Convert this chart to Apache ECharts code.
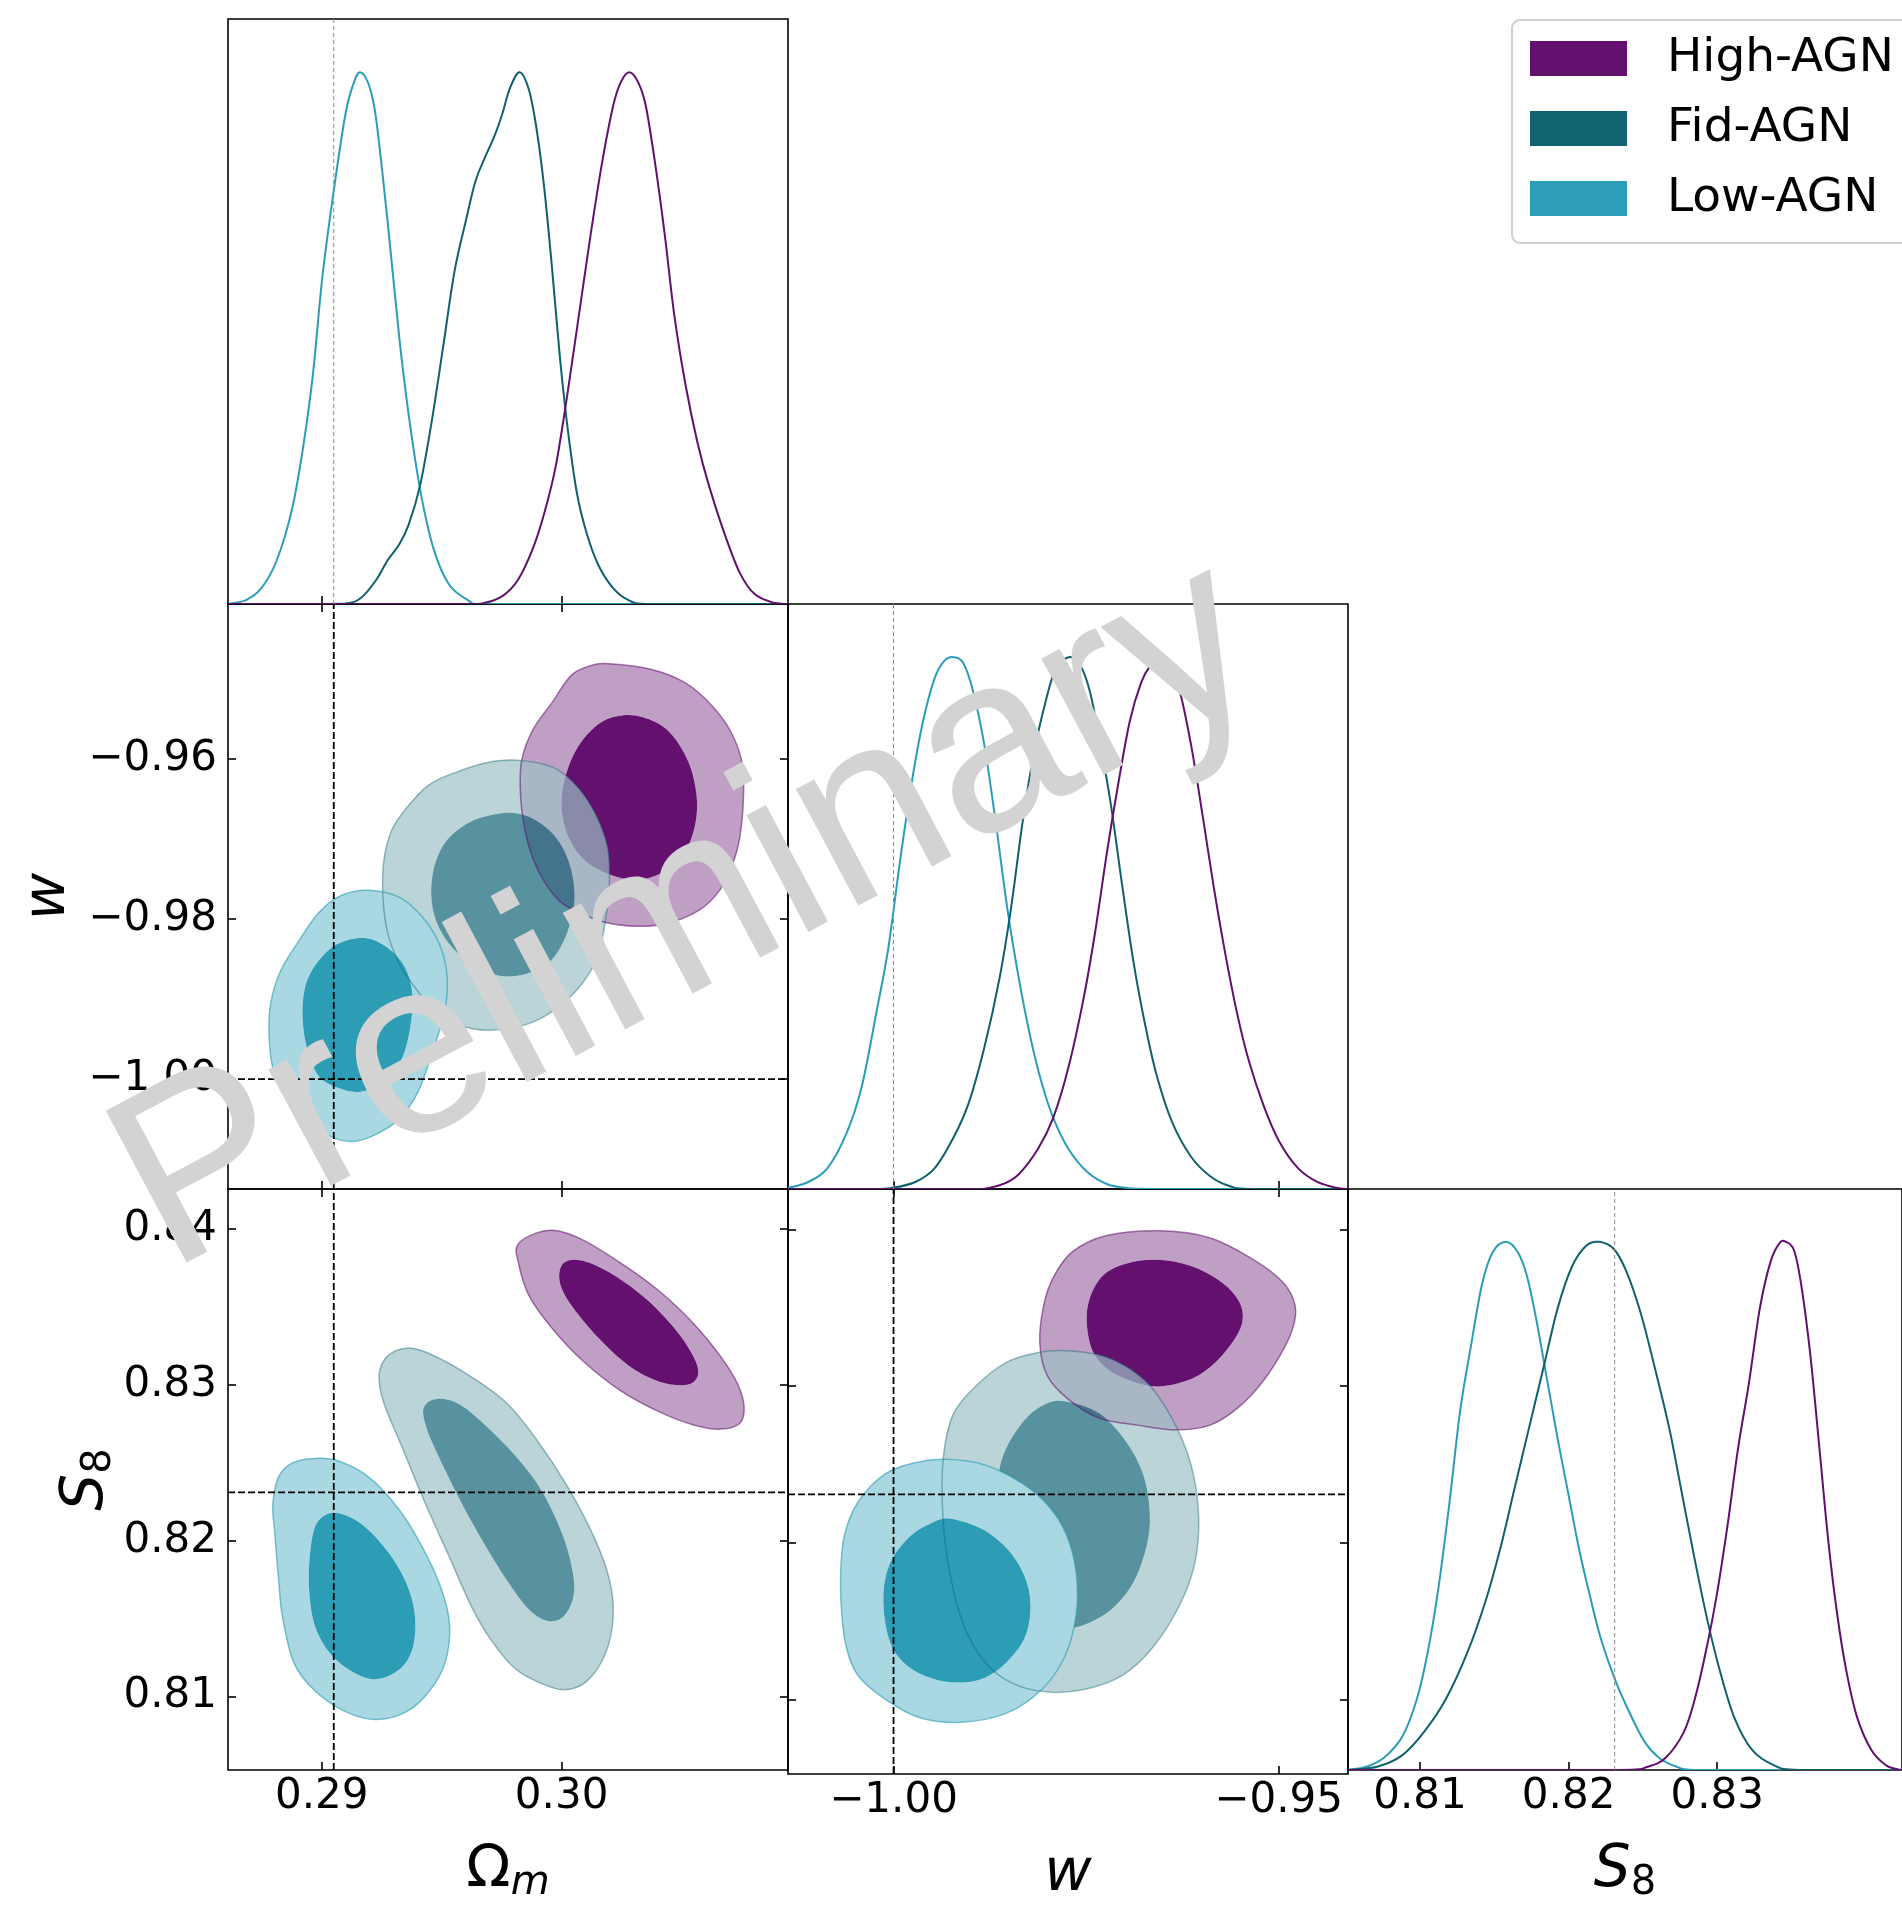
<!DOCTYPE html>
<html>
<head>
<meta charset="utf-8">
<script src="https://cdn.jsdelivr.net/npm/echarts@6/dist/echarts.min.js"></script>
<style>
  html, body { margin: 0; padding: 0; background: #ffffff; }
  #chart { width: 1902px; height: 1905px; }
</style>
</head>
<body>
<div id="chart"></div>
<script>
// ---------------- parameter ranges, ticks, reference values ----------------
const omRange   = [0.28609, 0.30944];
const wRangeX   = [-1.0137, -0.9410];
const wRangeY   = [-1.0137, -0.9407];
const s8RangeX  = [0.80515, 0.84244];
const s8RangeY  = [0.80527, 0.84258];
const pdfRange  = [0, 1.1];

const omTicks   = [0.29, 0.30];
const wTicksX   = [-1.00, -0.95];
const wTicksY   = [-0.96, -0.98, -1.00];
const s8TicksX  = [0.81, 0.82, 0.83];
const s8TicksY  = [0.84, 0.83, 0.82, 0.81];

const truthOm = 0.2905;
const truthW  = -1.00;
const truthS8 = 0.8231;

const chainNames = ['High-AGN', 'Fid-AGN', 'Low-AGN'];

// ---------------- 1D marginals (normalised to peak = 1) ----------------
const omHigh = [[0.28609,0],[0.29600,0],[0.29673,0.0015],[0.29753,0.0149],[0.29817,0.0446],[0.29880,0.1041],[0.29928,0.1710],[0.29976,0.2602],[0.30024,0.3941],[0.30072,0.5428],[0.30120,0.6914],[0.30167,0.8253],[0.30215,0.9368],[0.30247,0.9814],[0.30282,1.0],[0.30319,0.9814],[0.30351,0.9368],[0.30391,0.8253],[0.30431,0.6914],[0.30470,0.5428],[0.30518,0.4089],[0.30566,0.3048],[0.30614,0.2230],[0.30678,0.1338],[0.30742,0.0595],[0.30805,0.0186],[0.30885,0.0022],[0.30944,0]];
const omFid  = [[0.28609,0],[0.28971,0],[0.29099,0.0008],[0.29163,0.0112],[0.29226,0.0446],[0.29274,0.0818],[0.29322,0.1115],[0.29362,0.1487],[0.29410,0.2230],[0.29458,0.3420],[0.29506,0.4833],[0.29553,0.6245],[0.29601,0.7212],[0.29641,0.7955],[0.29681,0.8401],[0.29721,0.8810],[0.29753,0.9219],[0.29785,0.9703],[0.29825,1.0],[0.29864,0.9665],[0.29896,0.8922],[0.29928,0.7807],[0.29960,0.6320],[0.29992,0.4684],[0.30024,0.3346],[0.30064,0.2082],[0.30104,0.1338],[0.30152,0.0743],[0.30215,0.0297],[0.30279,0.0074],[0.30375,0],[0.30944,0]];
const omLow  = [[0.28609,0],[0.28684,0.0074],[0.28748,0.0297],[0.28812,0.0818],[0.28876,0.1784],[0.28923,0.2974],[0.28963,0.4312],[0.29003,0.6171],[0.29051,0.7807],[0.29099,0.9219],[0.29131,0.9769],[0.29159,1.0],[0.29195,0.9777],[0.29226,0.9145],[0.29274,0.7212],[0.29322,0.5056],[0.29362,0.3569],[0.29410,0.2156],[0.29466,0.1041],[0.29530,0.0372],[0.29609,0.0074],[0.29665,0],[0.30944,0]];

const wHigh = [[-1.0137,0],[-0.9900,0],[-0.98822,0.0005],[-0.98574,0.0095],[-0.98375,0.0278],[-0.98126,0.0753],[-0.97927,0.1338],[-0.97729,0.2288],[-0.97530,0.3604],[-0.97381,0.4846],[-0.97232,0.6308],[-0.97082,0.7624],[-0.96933,0.8794],[-0.96784,0.9525],[-0.96660,0.9854],[-0.96536,1.0],[-0.96411,0.9854],[-0.96287,0.9379],[-0.96138,0.8355],[-0.95989,0.7039],[-0.95840,0.5651],[-0.95691,0.4408],[-0.95541,0.3311],[-0.95392,0.2434],[-0.95193,0.1557],[-0.94995,0.0899],[-0.94746,0.0387],[-0.94498,0.0132],[-0.94249,0.0022],[-0.94100,0]];
const wFid  = [[-1.0137,0],[-1.0030,0],[-1.00015,0.0022],[-0.99717,0.0132],[-0.99468,0.0387],[-0.99220,0.0972],[-0.99021,0.1630],[-0.98822,0.2654],[-0.98623,0.3969],[-0.98474,0.5285],[-0.98325,0.6893],[-0.98176,0.8209],[-0.98027,0.9159],[-0.97903,0.9744],[-0.97729,1.0],[-0.97579,0.9854],[-0.97455,0.9379],[-0.97331,0.8501],[-0.97182,0.7259],[-0.97033,0.5724],[-0.96884,0.4262],[-0.96734,0.3092],[-0.96585,0.2142],[-0.96386,0.1265],[-0.96138,0.0607],[-0.95889,0.0241],[-0.95641,0.0058],[-0.95343,0],[-0.94100,0]];
const wLow  = [[-1.0137,0.0020],[-1.01108,0.0132],[-1.00860,0.0387],[-1.00611,0.1045],[-1.00413,0.1923],[-1.00214,0.3385],[-1.00065,0.4554],[-0.99916,0.6162],[-0.99766,0.7624],[-0.99617,0.8794],[-0.99468,0.9598],[-0.99344,0.9927],[-0.99220,1.0],[-0.99095,0.9890],[-0.98971,0.9379],[-0.98822,0.8355],[-0.98673,0.6893],[-0.98524,0.5285],[-0.98375,0.3969],[-0.98226,0.2873],[-0.98077,0.1996],[-0.97927,0.1338],[-0.97729,0.0753],[-0.97480,0.0314],[-0.97232,0.0095],[-0.96983,0.0022],[-0.96635,0],[-0.94100,0]];

const s8High = [[0.80515,0],[0.82339,0],[0.82533,0.0062],[0.82655,0.0238],[0.82776,0.0722],[0.82849,0.1339],[0.82922,0.2220],[0.82995,0.3278],[0.83068,0.4599],[0.83141,0.6097],[0.83214,0.7330],[0.83287,0.8740],[0.83359,0.9621],[0.83420,0.9974],[0.83462,1.0],[0.83517,0.9841],[0.83566,0.9181],[0.83627,0.7859],[0.83688,0.6097],[0.83748,0.4335],[0.83809,0.2925],[0.83870,0.1868],[0.83943,0.0987],[0.84040,0.0370],[0.84137,0.0088],[0.84205,0.0018],[0.84244,0]];
const s8Fid  = [[0.80515,0],[0.80711,0.0062],[0.80881,0.0282],[0.81027,0.0722],[0.81173,0.1339],[0.81318,0.2220],[0.81440,0.3189],[0.81537,0.4159],[0.81634,0.5304],[0.81731,0.6449],[0.81829,0.7595],[0.81926,0.8740],[0.82023,0.9533],[0.82120,0.9930],[0.82205,1.0],[0.82303,0.9868],[0.82388,0.9445],[0.82485,0.8652],[0.82582,0.7595],[0.82679,0.6449],[0.82764,0.5216],[0.82849,0.3982],[0.82934,0.2837],[0.83019,0.1868],[0.83116,0.0987],[0.83238,0.0370],[0.83384,0.0088],[0.83554,0],[0.84244,0]];
const s8Low  = [[0.80515,0],[0.80638,0.0062],[0.80759,0.0238],[0.80881,0.0634],[0.80978,0.1339],[0.81051,0.2220],[0.81124,0.3454],[0.81197,0.5040],[0.81270,0.6802],[0.81343,0.8035],[0.81416,0.9181],[0.81488,0.9797],[0.81578,1.0],[0.81659,0.9797],[0.81719,0.9357],[0.81780,0.8564],[0.81853,0.7419],[0.81926,0.6273],[0.81999,0.5216],[0.82072,0.4159],[0.82145,0.3278],[0.82217,0.2485],[0.82315,0.1692],[0.82412,0.1075],[0.82509,0.0546],[0.82606,0.0238],[0.82728,0.0062],[0.82850,0],[0.84244,0]];

// ---------------- 2D credible contours (outer = 95%, inner = 68%) ----------------
// Omega_m vs w
const omwHighOuter = [[0.30199,-0.94816],[0.30375,-0.94888],[0.30518,-0.95058],[0.30630,-0.95350],[0.30710,-0.95689],[0.30754,-0.96078],[0.30758,-0.96515],[0.30742,-0.97000],[0.30710,-0.97340],[0.30662,-0.97631],[0.30582,-0.97874],[0.30455,-0.98044],[0.30327,-0.98092],[0.30183,-0.98044],[0.30072,-0.97922],[0.29992,-0.97777],[0.29928,-0.97534],[0.29880,-0.97243],[0.29848,-0.96903],[0.29829,-0.96466],[0.29833,-0.96029],[0.29880,-0.95641],[0.29960,-0.95301],[0.30040,-0.94961],[0.30120,-0.94840]];
const omwHighInner = [[0.30279,-0.95456],[0.30391,-0.95544],[0.30470,-0.95738],[0.30534,-0.96078],[0.30563,-0.96466],[0.30558,-0.96806],[0.30518,-0.97146],[0.30439,-0.97388],[0.30327,-0.97510],[0.30215,-0.97461],[0.30104,-0.97291],[0.30032,-0.97000],[0.30000,-0.96612],[0.30016,-0.96223],[0.30072,-0.95835],[0.30167,-0.95544]];
const omwFidOuter  = [[0.29817,-0.96019],[0.29960,-0.96102],[0.30056,-0.96320],[0.30136,-0.96660],[0.30191,-0.97097],[0.30199,-0.97582],[0.30183,-0.98019],[0.30152,-0.98456],[0.30088,-0.98796],[0.29992,-0.99087],[0.29864,-0.99306],[0.29705,-0.99388],[0.29577,-0.99330],[0.29466,-0.99136],[0.29386,-0.98844],[0.29322,-0.98553],[0.29274,-0.98165],[0.29255,-0.97728],[0.29258,-0.97291],[0.29290,-0.96903],[0.29354,-0.96612],[0.29450,-0.96320],[0.29577,-0.96150],[0.29705,-0.96039]];
const omwFidInner  = [[0.29817,-0.96684],[0.29912,-0.96806],[0.29992,-0.97048],[0.30040,-0.97388],[0.30053,-0.97777],[0.30024,-0.98165],[0.29960,-0.98505],[0.29864,-0.98675],[0.29753,-0.98713],[0.29657,-0.98602],[0.29561,-0.98408],[0.29490,-0.98116],[0.29458,-0.97777],[0.29466,-0.97388],[0.29514,-0.97048],[0.29609,-0.96806],[0.29721,-0.96694]];
const omwLowOuter  = [[0.29195,-0.97641],[0.29322,-0.97728],[0.29418,-0.97971],[0.29490,-0.98311],[0.29522,-0.98699],[0.29514,-0.99136],[0.29466,-0.99621],[0.29402,-1.00155],[0.29322,-1.00495],[0.29226,-1.00689],[0.29131,-1.00776],[0.29035,-1.00713],[0.28939,-1.00495],[0.28844,-1.00204],[0.28796,-0.99864],[0.28780,-0.99427],[0.28788,-0.99039],[0.28828,-0.98650],[0.28907,-0.98262],[0.28987,-0.97922],[0.29083,-0.97704]];
const omwLowInner  = [[0.29179,-0.98238],[0.29274,-0.98359],[0.29346,-0.98602],[0.29378,-0.98941],[0.29370,-0.99330],[0.29338,-0.99718],[0.29274,-1.00009],[0.29163,-1.00155],[0.29067,-1.00107],[0.28987,-0.99961],[0.28939,-0.99621],[0.28920,-0.99233],[0.28931,-0.98844],[0.28979,-0.98553],[0.29067,-0.98311]];

// Omega_m vs S8
const omsHighOuter = [[0.29817,0.83901],[0.29896,0.83976],[0.29976,0.83991],[0.30088,0.83931],[0.30247,0.83782],[0.30407,0.83603],[0.30550,0.83394],[0.30662,0.83185],[0.30734,0.83006],[0.30761,0.82857],[0.30742,0.82752],[0.30662,0.82716],[0.30550,0.82743],[0.30407,0.82827],[0.30247,0.82961],[0.30088,0.83155],[0.29960,0.83364],[0.29864,0.83573],[0.29820,0.83782]];
const omsHighInner = [[0.30008,0.83782],[0.30088,0.83797],[0.30215,0.83707],[0.30359,0.83543],[0.30486,0.83334],[0.30558,0.83155],[0.30566,0.83051],[0.30518,0.83000],[0.30407,0.83021],[0.30279,0.83125],[0.30152,0.83304],[0.30040,0.83513],[0.29992,0.83663]];
const omsFidOuter  = [[0.29354,0.83236],[0.29450,0.83200],[0.29609,0.83066],[0.29769,0.82887],[0.29896,0.82648],[0.30024,0.82349],[0.30136,0.82021],[0.30199,0.81752],[0.30215,0.81513],[0.30183,0.81275],[0.30104,0.81096],[0.30008,0.81042],[0.29896,0.81096],[0.29801,0.81185],[0.29705,0.81364],[0.29625,0.81573],[0.29530,0.81902],[0.29434,0.82230],[0.29338,0.82588],[0.29258,0.82887],[0.29239,0.83066],[0.29274,0.83185]];
const omsFidInner  = [[0.29482,0.82910],[0.29577,0.82872],[0.29705,0.82707],[0.29833,0.82498],[0.29928,0.82290],[0.30008,0.82021],[0.30048,0.81782],[0.30048,0.81633],[0.30008,0.81513],[0.29944,0.81484],[0.29864,0.81558],[0.29769,0.81752],[0.29673,0.81991],[0.29577,0.82260],[0.29482,0.82558],[0.29434,0.82737],[0.29426,0.82857]];
const omsLowOuter  = [[0.28971,0.82528],[0.29067,0.82513],[0.29195,0.82409],[0.29322,0.82200],[0.29418,0.81961],[0.29498,0.81693],[0.29533,0.81454],[0.29514,0.81215],[0.29450,0.81036],[0.29354,0.80902],[0.29226,0.80851],[0.29099,0.80902],[0.28971,0.81036],[0.28884,0.81215],[0.28836,0.81513],[0.28820,0.81752],[0.28804,0.82051],[0.28796,0.82230],[0.28820,0.82409],[0.28876,0.82498]];
const omsLowInner  = [[0.29051,0.82179],[0.29163,0.82110],[0.29274,0.81931],[0.29354,0.81722],[0.29389,0.81513],[0.29378,0.81304],[0.29322,0.81170],[0.29226,0.81110],[0.29131,0.81155],[0.29035,0.81275],[0.28971,0.81454],[0.28947,0.81693],[0.28952,0.81931],[0.28979,0.82110]];

// w vs S8
const wsHighOuter = [[-0.96536,0.83991],[-0.95890,0.83946],[-0.95343,0.83812],[-0.94945,0.83663],[-0.94786,0.83513],[-0.94821,0.83364],[-0.94995,0.83185],[-0.95244,0.83006],[-0.95542,0.82857],[-0.95890,0.82752],[-0.96337,0.82722],[-0.96834,0.82752],[-0.97331,0.82797],[-0.97729,0.82916],[-0.98002,0.83066],[-0.98101,0.83275],[-0.98052,0.83513],[-0.97927,0.83693],[-0.97679,0.83857],[-0.97232,0.83961]];
const wsHighInner = [[-0.96586,0.83806],[-0.96138,0.83767],[-0.95741,0.83663],[-0.95517,0.83543],[-0.95467,0.83424],[-0.95567,0.83304],[-0.95815,0.83155],[-0.96114,0.83051],[-0.96512,0.83000],[-0.96834,0.83021],[-0.97182,0.83096],[-0.97406,0.83215],[-0.97490,0.83394],[-0.97455,0.83558],[-0.97281,0.83707],[-0.96983,0.83782]];
const wsFidOuter  = [[-0.97778,0.83227],[-0.97232,0.83185],[-0.96735,0.83036],[-0.96387,0.82797],[-0.96138,0.82499],[-0.96039,0.82170],[-0.96089,0.81872],[-0.96287,0.81603],[-0.96635,0.81334],[-0.97033,0.81155],[-0.97530,0.81066],[-0.98027,0.81051],[-0.98474,0.81110],[-0.98822,0.81245],[-0.99071,0.81454],[-0.99220,0.81693],[-0.99319,0.81961],[-0.99369,0.82290],[-0.99344,0.82588],[-0.99220,0.82827],[-0.98922,0.83006],[-0.98524,0.83155],[-0.98126,0.83215]];
const wsFidInner  = [[-0.97778,0.82904],[-0.97331,0.82827],[-0.96983,0.82648],[-0.96760,0.82439],[-0.96675,0.82200],[-0.96710,0.81991],[-0.96884,0.81752],[-0.97182,0.81573],[-0.97580,0.81469],[-0.97928,0.81454],[-0.98226,0.81513],[-0.98424,0.81693],[-0.98574,0.81931],[-0.98633,0.82170],[-0.98633,0.82439],[-0.98524,0.82618],[-0.98275,0.82797],[-0.98027,0.82887]];
const wsLowOuter  = [[-0.99319,0.82534],[-0.98822,0.82499],[-0.98325,0.82379],[-0.97977,0.82230],[-0.97754,0.82051],[-0.97629,0.81812],[-0.97629,0.81543],[-0.97778,0.81275],[-0.98077,0.81066],[-0.98524,0.80917],[-0.99120,0.80857],[-0.99667,0.80887],[-1.00114,0.81006],[-1.00462,0.81155],[-1.00611,0.81334],[-1.00671,0.81543],[-1.00686,0.81812],[-1.00636,0.82051],[-1.00462,0.82260],[-1.00114,0.82439],[-0.99717,0.82513]];
const wsLowInner  = [[-0.99269,0.82155],[-0.98822,0.82081],[-0.98474,0.81931],[-0.98275,0.81752],[-0.98226,0.81573],[-0.98300,0.81394],[-0.98524,0.81245],[-0.98822,0.81140],[-0.99170,0.81110],[-0.99518,0.81140],[-0.99816,0.81215],[-1.00015,0.81334],[-1.00114,0.81513],[-1.00124,0.81722],[-1.00015,0.81901],[-0.99766,0.82051],[-0.99518,0.82125]];

// ---------------- styling ----------------
const FONT = 'DejaVu Sans';
const style = {
  High: { line: '#62106e', legend: '#63116f', outer: '#c09fc5', inner: '#63106f', edge: 'rgba(98,16,110,0.55)' },
  Fid:  { line: '#10606f', legend: '#116371', outer: 'rgba(157,193,199,0.69)', inner: 'rgba(12,97,114,0.69)', edge: 'rgba(16,96,111,0.40)' },
  Low:  { line: '#2a9db8', legend: '#2d9eb7', outer: '#a9d8e2', inner: '#2d9db6', edge: 'rgba(44,157,181,0.60)' }
};

// panel layout (pixels)
const COL = [228, 788, 1348];
const ROW = [19, 604, 1189];
const PW = 560, PH = 585;

const fmtTick = v => (v < 0 ? '\u2212' : '') + Math.abs(v).toFixed(2);

// ---------------- helpers ----------------
const f2 = v => v.toFixed(2);
const clamp = (v, a, b) => Math.max(Math.min(a, b), Math.min(Math.max(a, b), v));
function closedCurve(pts) {
  // closed Catmull-Rom spline through pixel points, as SVG path data
  const n = pts.length;
  let d = 'M' + f2(pts[0][0]) + ',' + f2(pts[0][1]);
  for (let i = 0; i < n; i++) {
    const p0 = pts[(i - 1 + n) % n], p1 = pts[i], p2 = pts[(i + 1) % n], p3 = pts[(i + 2) % n];
    d += ' C' + f2(p1[0] + (p2[0] - p0[0]) / 6) + ',' + f2(p1[1] + (p2[1] - p0[1]) / 6) +
         ' ' + f2(p2[0] - (p3[0] - p1[0]) / 6) + ',' + f2(p2[1] - (p3[1] - p1[1]) / 6) +
         ' ' + f2(p2[0]) + ',' + f2(p2[1]);
  }
  return d + ' Z';
}
function openCurve(pts, yFloor) {
  // open Catmull-Rom spline, kept monotone in x and above the zero-density baseline
  const n = pts.length;
  const cy = y => Math.min(y, yFloor);
  let d = 'M' + f2(pts[0][0]) + ',' + f2(pts[0][1]);
  for (let i = 0; i < n - 1; i++) {
    const p0 = pts[Math.max(i - 1, 0)], p1 = pts[i], p2 = pts[i + 1], p3 = pts[Math.min(i + 2, n - 1)];
    const c1x = clamp(p1[0] + (p2[0] - p0[0]) / 6, p1[0], p2[0]);
    const c2x = clamp(p2[0] - (p3[0] - p1[0]) / 6, p1[0], p2[0]);
    d += ' C' + f2(c1x) + ',' + f2(cy(p1[1] + (p2[1] - p0[1]) / 6)) +
         ' ' + f2(c2x) + ',' + f2(cy(p2[1] - (p3[1] - p1[1]) / 6)) +
         ' ' + f2(p2[0]) + ',' + f2(p2[1]);
  }
  return d;
}
function signedArea(pts) {
  let a = 0;
  for (let i = 0; i < pts.length; i++) {
    const p = pts[i], q = pts[(i + 1) % pts.length];
    a += p[0] * q[1] - q[0] * p[1];
  }
  return a / 2;
}

// filled region: outer contour, optionally with the inner contour cut out
function regionSeries(xi, yi, outer, hole, fill) {
  return {
    type: 'custom', coordinateSystem: 'cartesian2d', xAxisIndex: xi, yAxisIndex: yi,
    data: outer, encode: { x: 0, y: 1 }, silent: true, z: 2,
    renderItem: function (params, api) {
      if (params.dataIndex !== 0) return;
      const o = outer.map(p => api.coord(p));
      let d = closedCurve(o);
      if (hole) {
        let h = hole.map(p => api.coord(p));
        if (Math.sign(signedArea(h)) === Math.sign(signedArea(o))) h = h.slice().reverse();
        d += ' ' + closedCurve(h);
      }
      return { type: 'path', shape: { pathData: d }, style: { fill: fill, stroke: null } };
    }
  };
}
function edgeSeries(xi, yi, pts, stroke) {
  return {
    type: 'custom', coordinateSystem: 'cartesian2d', xAxisIndex: xi, yAxisIndex: yi,
    data: pts, encode: { x: 0, y: 1 }, silent: true, z: 5,
    renderItem: function (params, api) {
      if (params.dataIndex !== 0) return;
      const o = pts.map(p => api.coord(p));
      return { type: 'path', shape: { pathData: closedCurve(o) }, style: { fill: 'none', stroke: stroke, lineWidth: 1.5 } };
    }
  };
}
function contourSet(xi, yi, sets) {
  // sets: [[outer, inner, styleKey], ...] in drawing order
  const out = [];
  sets.forEach(([outer, inner, key]) => {
    out.push(regionSeries(xi, yi, outer, inner, style[key].outer));
    out.push(regionSeries(xi, yi, inner, null, style[key].inner));
  });
  sets.forEach(([outer, inner, key]) => out.push(edgeSeries(xi, yi, outer, style[key].edge)));
  return out;
}
function pdfCurve(name, xi, yi, data, key) {
  return {
    name: name, type: 'custom', coordinateSystem: 'cartesian2d', xAxisIndex: xi, yAxisIndex: yi,
    data: data, encode: { x: 0, y: 1 }, silent: true, z: 3, clip: true,
    itemStyle: { color: style[key].legend },
    renderItem: function (params, api) {
      if (params.dataIndex !== 0) return;
      const pts = data.map(p => api.coord(p));
      const floor = api.coord([data[0][0], 0])[1];
      return { type: 'path', shape: { pathData: openCurve(pts, floor) },
               style: { fill: 'none', stroke: style[key].line, lineWidth: 2 } };
    }
  };
}
function refLine(xi, yi, data, strong) {
  return {
    type: 'line', xAxisIndex: xi, yAxisIndex: yi, data: data, symbol: 'none', silent: true,
    z: strong ? 6 : 4,
    lineStyle: strong ? { color: '#000', width: 1.8, type: [7, 3] } : { color: '#8a8a8a', width: 1, type: [4, 3] }
  };
}

function axis(gridIndex, range, ticks, position, withLabels, extra) {
  return Object.assign({
    type: 'value', gridIndex: gridIndex, min: range[0], max: range[1], position: position,
    axisLine: { show: false }, splitLine: { show: false },
    axisTick: { show: true, inside: true, length: 8, customValues: ticks, lineStyle: { color: '#000', width: 1.6 } },
    axisLabel: {
      show: withLabels, customValues: ticks, formatter: fmtTick,
      fontSize: 42, fontFamily: FONT, color: '#000',
      margin: (position === 'left' || position === 'right') ? 11 : 6
    }
  }, extra || {});
}
const hiddenY = g => ({ type: 'value', gridIndex: g, min: pdfRange[0], max: pdfRange[1], show: false });

const nameRich = {
  up:  { fontSize: 58, fontFamily: FONT, color: '#000', verticalAlign: 'bottom', padding: [0, 0, 4, 0] },
  it:  { fontSize: 58, fontFamily: FONT, fontStyle: 'italic', color: '#000', verticalAlign: 'bottom', padding: [0, 0, 4, 0] },
  sub: { fontSize: 40, fontFamily: FONT, fontStyle: 'italic', color: '#000', verticalAlign: 'bottom' },
  subr:{ fontSize: 40, fontFamily: FONT, color: '#000', verticalAlign: 'bottom' }
};
const xName = (text, gap) => ({ name: text, nameLocation: 'middle', nameGap: gap, nameTextStyle: { rich: nameRich } });
const yName = (text, gap) => ({ name: text, nameLocation: 'middle', nameGap: gap, nameRotate: 90, nameTextStyle: { rich: nameRich } });

// ---------------- grids & axes ----------------
const frame = { show: true, borderColor: '#000', borderWidth: 1.6, backgroundColor: 'transparent', containLabel: false };
const grid = [
  Object.assign({ left: COL[0], top: ROW[0], width: PW, height: PH }, frame), // 0  Omega_m pdf
  Object.assign({ left: COL[0], top: ROW[1], width: PW, height: PH }, frame), // 1  Omega_m - w
  Object.assign({ left: COL[1], top: ROW[1], width: PW, height: PH }, frame), // 2  w pdf
  Object.assign({ left: COL[0], top: ROW[2], width: PW, height: PH }, frame), // 3  Omega_m - S8
  Object.assign({ left: COL[1], top: ROW[2], width: PW, height: PH }, frame), // 4  w - S8
  Object.assign({ left: COL[2], top: ROW[2], width: PW, height: PH }, frame)  // 5  S8 pdf
];

const xAxis = [
  axis(0, omRange, omTicks, 'bottom', false),                                   // 0
  axis(1, omRange, omTicks, 'bottom', false),                                   // 1
  axis(1, omRange, omTicks, 'top', false),                                      // 2
  axis(2, wRangeX, wTicksX, 'bottom', false),                                   // 3
  axis(3, omRange, omTicks, 'bottom', true, xName('{up|\u03A9}{sub|m}', 72)),   // 4
  axis(3, omRange, omTicks, 'top', false),                                      // 5
  axis(4, wRangeX, wTicksX, 'bottom', true, xName('{it|w}', 72)),               // 6
  axis(4, wRangeX, wTicksX, 'top', false),                                      // 7
  axis(5, s8RangeX, s8TicksX, 'bottom', true, xName('{it|S}{subr|8}', 72))      // 8
];
const yAxis = [
  hiddenY(0),                                                                   // 0
  axis(1, wRangeY, wTicksY, 'left', true, yName('{it|w}', 146)),                // 1
  axis(1, wRangeY, wTicksY, 'right', false),                                    // 2
  hiddenY(2),                                                                   // 3
  axis(3, s8RangeY, s8TicksY, 'left', true, yName('{it|S}{subr|8}', 108)),      // 4
  axis(3, s8RangeY, s8TicksY, 'right', false),                                  // 5
  axis(4, s8RangeY, s8TicksY, 'left', false),                                   // 6
  axis(4, s8RangeY, s8TicksY, 'right', false),                                  // 7
  hiddenY(5)                                                                    // 8
];

// ---------------- series ----------------
const series = [];
// marginal distributions
[[0, 0, omHigh, omFid, omLow], [3, 3, wHigh, wFid, wLow], [8, 8, s8High, s8Fid, s8Low]].forEach(([xi, yi, h, f, l]) => {
  series.push(pdfCurve(chainNames[2], xi, yi, l, 'Low'));
  series.push(pdfCurve(chainNames[1], xi, yi, f, 'Fid'));
  series.push(pdfCurve(chainNames[0], xi, yi, h, 'High'));
});
// joint contours
series.push(...contourSet(1, 1, [[omwHighOuter, omwHighInner, 'High'], [omwFidOuter, omwFidInner, 'Fid'], [omwLowOuter, omwLowInner, 'Low']]));
series.push(...contourSet(4, 4, [[omsHighOuter, omsHighInner, 'High'], [omsFidOuter, omsFidInner, 'Fid'], [omsLowOuter, omsLowInner, 'Low']]));
series.push(...contourSet(6, 6, [[wsHighOuter, wsHighInner, 'High'], [wsFidOuter, wsFidInner, 'Fid'], [wsLowOuter, wsLowInner, 'Low']]));
// fiducial values
series.push(refLine(0, 0, [[truthOm, pdfRange[0]], [truthOm, pdfRange[1]]], false));
series.push(refLine(3, 3, [[truthW, pdfRange[0]], [truthW, pdfRange[1]]], false));
series.push(refLine(8, 8, [[truthS8, pdfRange[0]], [truthS8, pdfRange[1]]], false));
series.push(refLine(1, 1, [[truthOm, wRangeY[0]], [truthOm, wRangeY[1]]], true));
series.push(refLine(1, 1, [[omRange[0], truthW], [omRange[1], truthW]], true));
series.push(refLine(4, 4, [[truthOm, s8RangeY[0]], [truthOm, s8RangeY[1]]], true));
series.push(refLine(4, 4, [[omRange[0], truthS8], [omRange[1], truthS8]], true));
series.push(refLine(6, 6, [[truthW, s8RangeY[0]], [truthW, s8RangeY[1]]], true));
series.push(refLine(6, 6, [[wRangeX[0], truthS8], [wRangeX[1], truthS8]], true));

const legendColors = [style.High.legend, style.Fid.legend, style.Low.legend];

const option = {
  animation: false,
  backgroundColor: '#ffffff',
  grid: grid,
  xAxis: xAxis,
  yAxis: yAxis,
  series: series,
  legend: {
    orient: 'vertical', left: 1512, top: 20,
    itemWidth: 97, itemHeight: 35, itemGap: 23,
    padding: [15, 18, 21, 18],
    backgroundColor: '#ffffff', borderColor: '#d0d0d0', borderWidth: 2, borderRadius: 8,
    selectedMode: false, icon: 'rect',
    textStyle: { fontSize: 47, fontFamily: FONT, color: '#000', padding: [0, 0, 0, 35] },
    data: chainNames.map((n, i) => ({ name: n, itemStyle: { color: legendColors[i], borderWidth: 0 } }))
  },
  // draft watermark across the plot
  graphic: [{
    type: 'text', x: 688, y: 918, rotation: 28 * Math.PI / 180, z: 100, silent: true,
    style: {
      text: 'Preliminary', fontSize: 250, fontFamily: 'Liberation Sans', fill: '#d3d3d3',
      align: 'center', verticalAlign: 'middle', textAlign: 'center', textVerticalAlign: 'middle'
    }
  }]
};

const chart = echarts.init(document.getElementById('chart'), null, { renderer: 'canvas' });
chart.setOption(option);
</script>
</body>
</html>
